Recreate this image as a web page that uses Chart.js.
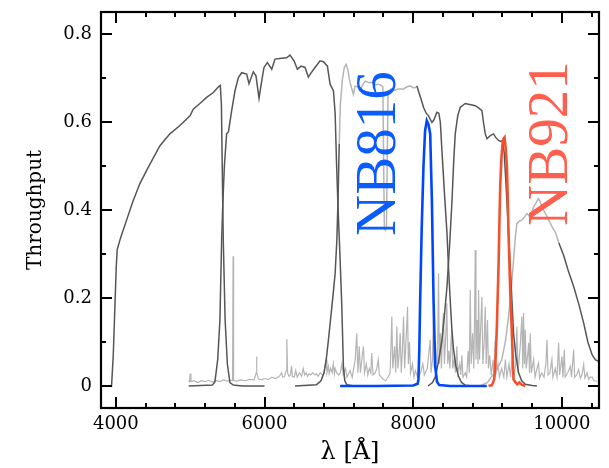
<!DOCTYPE html>
<html>
<head>
<meta charset="utf-8">
<script src="https://cdn.jsdelivr.net/npm/chart.js@4/dist/chart.umd.min.js"></script>
<style>
  html, body { margin: 0; padding: 0; background: #fff; }
  #wrap { width: 609px; height: 468px; }
</style>
</head>
<body>
<div id="wrap"><canvas id="plot"></canvas></div>
<script>
// ejes
const xTicks = [4000, 6000, 8000, 10000];
const yTicks = [0, 0.2, 0.4, 0.6, 0.8];
const yTickLabels = ['0', '0.2', '0.4', '0.6', '0.8'];

// filtro g (gris oscuro)
const gLam = [3860, 3942, 3965, 3985, 4005, 4018, 4060, 4098, 4144, 4230, 4323, 4435, 4593, 4727, 4862, 4997, 5041, 5130, 5221, 5311, 5380, 5405, 5420, 5435, 5445, 5470, 5500, 5535, 5580, 5700, 6000];
const gThr = [0, 0, 0.07, 0.17, 0.27, 0.31, 0.335, 0.354, 0.377, 0.42, 0.46, 0.497, 0.546, 0.573, 0.592, 0.614, 0.629, 0.642, 0.656, 0.667, 0.68, 0.683, 0.64, 0.45, 0.331, 0.15, 0.05, 0.008, 0.002, 0, 0];

// filtro r
const rLam = [4980, 5300, 5333, 5370, 5400, 5423, 5440, 5460, 5490, 5515, 5558, 5603, 5648, 5693, 5760, 5791, 5849, 5885, 5926, 5962, 5993, 6038, 6097, 6141, 6231, 6298, 6343, 6397, 6442, 6492, 6545, 6590, 6636, 6680, 6747, 6792, 6846, 6882, 6927, 6950, 6970, 6990, 7007, 7025, 7040, 7061, 7080, 7107, 7200, 7350];
const rThr = [0, 0.002, 0.01, 0.06, 0.15, 0.331, 0.42, 0.5, 0.573, 0.578, 0.626, 0.671, 0.701, 0.712, 0.709, 0.687, 0.714, 0.705, 0.654, 0.693, 0.724, 0.735, 0.72, 0.743, 0.745, 0.746, 0.752, 0.739, 0.72, 0.727, 0.724, 0.702, 0.714, 0.724, 0.739, 0.737, 0.727, 0.686, 0.671, 0.62, 0.5, 0.4, 0.331, 0.25, 0.18, 0.045, 0.012, 0.003, 0, 0];

// filtro i (tramo claro entre 7005 y 8050)
const iLam = [6410, 6700, 6760, 6800, 6830, 6860, 6900, 6930, 6950, 6973, 6990, 7005, 7020, 7050, 7075, 7098, 7120, 7150, 7196, 7219, 7250, 7286, 7320, 7354, 7400, 7443, 7490, 7533, 7570, 7592, 7603, 7612, 7625, 7640, 7650, 7662, 7700, 7750, 7800, 7870, 7920, 7960, 8000, 8027, 8050, 8100, 8140, 8175, 8207, 8235, 8252, 8280, 8319, 8345, 8365, 8387, 8420, 8455, 8475, 8498, 8520, 8543, 8575, 8610, 8650, 8700, 8800];
const iThr = [0, 0.003, 0.012, 0.03, 0.06, 0.105, 0.17, 0.22, 0.256, 0.331, 0.43, 0.55, 0.64, 0.7, 0.725, 0.731, 0.72, 0.69, 0.663, 0.682, 0.68, 0.671, 0.685, 0.693, 0.69, 0.69, 0.685, 0.686, 0.683, 0.68, 0.5, 0.36, 0.354, 0.36, 0.5, 0.67, 0.675, 0.672, 0.675, 0.675, 0.68, 0.682, 0.678, 0.678, 0.682, 0.655, 0.633, 0.62, 0.614, 0.604, 0.599, 0.605, 0.622, 0.62, 0.6, 0.535, 0.44, 0.347, 0.27, 0.196, 0.13, 0.083, 0.045, 0.022, 0.008, 0.002, 0];

// filtro z
const zLam = [8200, 8260, 8296, 8340, 8387, 8420, 8455, 8490, 8522, 8545, 8566, 8600, 8633, 8700, 8760, 8835, 8880, 8925, 8945, 8970, 8993, 9037, 9081, 9110, 9148, 9175, 9202, 9225, 9245, 9261, 9285, 9306, 9330, 9350, 9380, 9418, 9460, 9508, 9600, 9665];
const zThr = [0, 0.008, 0.02, 0.055, 0.105, 0.16, 0.226, 0.32, 0.42, 0.51, 0.573, 0.615, 0.633, 0.642, 0.64, 0.637, 0.632, 0.626, 0.6, 0.573, 0.562, 0.569, 0.573, 0.565, 0.558, 0.556, 0.558, 0.53, 0.47, 0.42, 0.34, 0.271, 0.19, 0.12, 0.07, 0.03, 0.012, 0.004, 0.001, 0];

// filtro y (claro hasta 9950)
const yLam = [8900, 9000, 9058, 9120, 9192, 9240, 9283, 9320, 9350, 9375, 9395, 9430, 9462, 9500, 9530, 9555, 9576, 9600, 9620, 9650, 9683, 9710, 9754, 9800, 9845, 9880, 9912, 9960, 10024, 10090, 10159, 10230, 10294, 10350, 10407, 10450, 10496, 10550];
const yThr = [0, 0.008, 0.022, 0.035, 0.06, 0.1, 0.158, 0.22, 0.286, 0.34, 0.369, 0.375, 0.377, 0.385, 0.392, 0.388, 0.38, 0.395, 0.407, 0.415, 0.426, 0.418, 0.4, 0.385, 0.37, 0.358, 0.35, 0.325, 0.297, 0.26, 0.226, 0.185, 0.143, 0.1, 0.071, 0.06, 0.056, 0.05];

// NB816
const nb816Lam = [7017, 7500, 8000, 8060, 8071, 8082, 8094, 8115, 8138, 8160, 8183, 8205, 8229, 8252, 8274, 8296, 8320, 8350, 8500, 8990];
const nb816Thr = [0, 0, 0.001, 0.005, 0.015, 0.08, 0.196, 0.36, 0.497, 0.58, 0.603, 0.595, 0.573, 0.42, 0.196, 0.045, 0.01, 0.002, 0, 0];

// NB921
const nb921Lam = [9014, 9060, 9090, 9104, 9125, 9148, 9160, 9172, 9188, 9202, 9215, 9229, 9245, 9261, 9272, 9283, 9305, 9328, 9340, 9350, 9370, 9400, 9430, 9460, 9508];
const nb921Thr = [0, 0.002, 0.015, 0.045, 0.13, 0.271, 0.37, 0.46, 0.52, 0.55, 0.562, 0.565, 0.54, 0.497, 0.43, 0.347, 0.22, 0.12, 0.06, 0.015, 0.01, 0.004, 0.008, 0.003, 0];

// espectro del cielo (gris claro)
const skyLam = [4975, 4990, 5000, 5010, 5050, 5100, 5150, 5200, 5250, 5300, 5350, 5400, 5450, 5500, 5550, 5570, 5577, 5584, 5620, 5680, 5740, 5800, 5860, 5888, 5893, 5898, 5920, 5960, 6000, 6050, 6100, 6150, 6200, 6230, 6245, 6270, 6290, 6300, 6310, 6330, 6350, 6364, 6375, 6400, 6420, 6440, 6470, 6500, 6520, 6540, 6560, 6580, 6600, 6620, 6650, 6680, 6700, 6720, 6750, 6780, 6800, 6830, 6840, 6860, 6870, 6890, 6910, 6925, 6940, 6950, 6970, 7000,
  7020, 7040, 7060, 7090, 7110, 7150, 7180, 7220, 7241, 7255, 7275, 7290, 7316, 7331, 7345, 7370, 7390, 7410, 7430, 7443, 7460, 7490, 7510, 7530, 7545, 7570, 7600, 7630, 7660, 7690, 7713, 7725, 7750, 7765, 7780, 7795, 7810, 7825, 7840, 7855, 7870, 7885, 7900, 7914, 7924, 7935, 7950, 7965, 7990, 8010, 8030, 8060,
  8100, 8130, 8150, 8190, 8229, 8240, 8260, 8274, 8285, 8300, 8315, 8330, 8341, 8352, 8365, 8380, 8398, 8408, 8420, 8440, 8453, 8465, 8480, 8495, 8508, 8520, 8532, 8550, 8570, 8588, 8600, 8625, 8640, 8655, 8670, 8700, 8720, 8740, 8755, 8768, 8780, 8800, 8815, 8827, 8835, 8845, 8860, 8872, 8880, 8892, 8910, 8925, 8937, 8955, 8970, 8982, 9000, 9012, 9030, 9050, 9075, 9090, 9104, 9115, 9140, 9160, 9190, 9220,
  9240, 9260, 9290, 9310, 9340, 9355, 9380, 9395, 9410, 9440, 9462, 9475, 9485, 9498, 9508, 9520, 9540, 9553, 9565, 9575, 9590, 9620, 9640, 9665, 9687, 9700, 9730, 9760, 9785, 9800, 9815, 9840, 9866, 9880, 9910, 9935, 9957, 9970, 10002, 10015, 10033, 10045, 10080, 10114, 10130, 10159, 10172, 10200, 10226, 10250, 10270, 10294, 10310, 10339, 10360, 10380, 10406, 10430, 10474];
const skyThr = [0.012, 0.01, 0.028, 0.01, 0.012, 0.008, 0.012, 0.01, 0.013, 0.009, 0.012, 0.01, 0.014, 0.011, 0.013, 0.012, 0.295, 0.013, 0.011, 0.014, 0.012, 0.015, 0.014, 0.03, 0.067, 0.03, 0.016, 0.014, 0.017, 0.015, 0.02, 0.017, 0.022, 0.03, 0.02, 0.022, 0.035, 0.107, 0.03, 0.022, 0.025, 0.046, 0.022, 0.02, 0.035, 0.02, 0.03, 0.022, 0.04, 0.025, 0.03, 0.022, 0.028, 0.025, 0.03, 0.025, 0.028, 0.022, 0.03, 0.025, 0.028, 0.06, 0.03, 0.045, 0.028, 0.04, 0.03, 0.05, 0.028, 0.04, 0.03, 0.025,
  0.03, 0.05, 0.025, 0.04, 0.02, 0.035, 0.02, 0.06, 0.12, 0.03, 0.09, 0.03, 0.07, 0.09, 0.03, 0.05, 0.025, 0.04, 0.03, 0.075, 0.025, 0.03, 0.04, 0.06, 0.025, 0.02, 0.015, 0.012, 0.02, 0.03, 0.158, 0.04, 0.09, 0.03, 0.135, 0.04, 0.07, 0.12, 0.03, 0.08, 0.158, 0.04, 0.09, 0.14, 0.18, 0.05, 0.1, 0.03, 0.05, 0.02, 0.035, 0.02,
  0.03, 0.05, 0.025, 0.04, 0.105, 0.03, 0.06, 0.18, 0.04, 0.1, 0.03, 0.09, 0.256, 0.05, 0.12, 0.04, 0.14, 0.166, 0.05, 0.12, 0.188, 0.05, 0.08, 0.04, 0.1, 0.128, 0.04, 0.06, 0.03, 0.09, 0.03, 0.05, 0.025, 0.07, 0.02, 0.03, 0.02, 0.08, 0.03, 0.218, 0.05, 0.12, 0.04, 0.17, 0.309, 0.06, 0.15, 0.05, 0.218, 0.06, 0.14, 0.203, 0.05, 0.1, 0.18, 0.05, 0.15, 0.04, 0.07, 0.025, 0.06, 0.02, 0.105, 0.03, 0.05, 0.02, 0.04, 0.02,
  0.06, 0.02, 0.05, 0.02, 0.08, 0.02, 0.05, 0.135, 0.03, 0.09, 0.158, 0.04, 0.166, 0.05, 0.128, 0.04, 0.07, 0.098, 0.03, 0.12, 0.03, 0.06, 0.02, 0.04, 0.052, 0.018, 0.03, 0.02, 0.05, 0.105, 0.025, 0.03, 0.06, 0.02, 0.04, 0.02, 0.098, 0.025, 0.067, 0.02, 0.083, 0.02, 0.03, 0.045, 0.02, 0.083, 0.02, 0.025, 0.037, 0.018, 0.025, 0.049, 0.018, 0.03, 0.015, 0.02, 0.02, 0.012, 0.011];

// etiquetas de los filtros angostos (posición en unidades de datos)
const nbLabels = [
  { text: 'NB816', lam: 7556, thr: 0.528, color: '#0a5cff' },
  { text: 'NB921', lam: 9868, thr: 0.551, color: '#ff5f4f' }
];

const DARK = '#565656';
const LIGHT = '#b5b5b5';

const pairs = (lam, thr) => lam.map((x, i) => ({ x: x, y: thr[i] }));

const lineSet = (lam, thr, color, width, order, extra) => Object.assign({
  data: pairs(lam, thr),
  borderColor: color,
  borderWidth: width,
  pointRadius: 0,
  tension: 0,
  fill: false,
  order: order
}, extra || {});

// marco y marcas hacia adentro en los cuatro lados
const frameTicks = {
  id: 'frameTicks',
  afterDatasetsDraw(chart) {
    const { ctx, chartArea: a, scales: { x, y } } = chart;
    ctx.save();
    ctx.strokeStyle = '#000';
    ctx.lineWidth = 2;
    ctx.beginPath();
    for (let v = 4000; v <= 10400; v += 400) {
      const px = Math.round(x.getPixelForValue(v));
      const len = xTicks.includes(v) ? 11 : 5;
      ctx.moveTo(px, a.bottom); ctx.lineTo(px, a.bottom - len);
      ctx.moveTo(px, a.top); ctx.lineTo(px, a.top + len);
    }
    for (let k = 0; k <= 8; k++) {
      const v = k / 10;
      const py = Math.round(y.getPixelForValue(v));
      const len = k % 2 === 0 ? 11 : 5;
      ctx.moveTo(a.left, py); ctx.lineTo(a.left + len, py);
      ctx.moveTo(a.right, py); ctx.lineTo(a.right - len, py);
    }
    ctx.stroke();
    ctx.lineWidth = 2.2;
    ctx.strokeRect(a.left, a.top, a.right - a.left, a.bottom - a.top);

    // textos rotados NB816 / NB921
    ctx.font = '57px "Liberation Serif"';
    ctx.textAlign = 'center';
    ctx.textBaseline = 'middle';
    nbLabels.forEach(l => {
      ctx.save();
      ctx.translate(x.getPixelForValue(l.lam), y.getPixelForValue(l.thr));
      ctx.rotate(-Math.PI / 2);
      ctx.fillStyle = l.color;
      ctx.fillText(l.text, 0, 0);
      ctx.restore();
    });
    ctx.restore();
  }
};

const chart = new Chart(document.getElementById('plot'), {
  type: 'line',
  data: {
    datasets: [
      lineSet(skyLam, skyThr, LIGHT, 1.2, 6),
      lineSet(gLam, gThr, DARK, 1.5, 4),
      lineSet(rLam, rThr, DARK, 1.5, 4),
      lineSet(iLam, iThr, DARK, 1.5, 3, {
        segment: { borderColor: c => (c.p0.parsed.x >= 7005 && c.p1.parsed.x <= 8050) ? LIGHT : DARK }
      }),
      lineSet(zLam, zThr, DARK, 1.5, 4),
      lineSet(yLam, yThr, DARK, 1.5, 5, {
        segment: { borderColor: c => c.p1.parsed.x <= 9960 ? LIGHT : DARK }
      }),
      lineSet(nb816Lam, nb816Thr, '#0046ff', 2.6, 1),
      lineSet(nb921Lam, nb921Thr, '#f0522d', 2.6, 0)
    ]
  },
  options: {
    responsive: true,
    maintainAspectRatio: false,
    animation: false,
    layout: { padding: { top: 12, right: 10, left: 0, bottom: 0 } },
    plugins: { legend: { display: false }, tooltip: { enabled: false } },
    scales: {
      x: {
        type: 'linear',
        min: 3800,
        max: 10500,
        grid: { display: false, drawTicks: false },
        border: { display: false },
        afterFit: s => { s.height = 60; s.paddingLeft = 0; s.paddingRight = 0; },
        afterBuildTicks: s => { s.ticks = xTicks.map(v => ({ value: v })); },
        ticks: {
          padding: 6,
          color: '#000',
          font: { family: 'DejaVu Serif', size: 18 },
          callback: v => String(v)
        },
        title: {
          display: true,
          text: 'λ [Å]',
          color: '#000',
          font: { family: 'DejaVu Serif', size: 24, lineHeight: 1 },
          padding: { top: 0, bottom: 3 }
        }
      },
      y: {
        min: -0.05,
        max: 0.85,
        grid: { display: false, drawTicks: false },
        border: { display: false },
        afterFit: s => { s.width = 101; s.paddingTop = 0; s.paddingBottom = 0; },
        afterBuildTicks: s => { s.ticks = yTicks.map(v => ({ value: v })); },
        ticks: {
          padding: 9,
          color: '#000',
          font: { family: 'DejaVu Serif', size: 18 },
          callback: (v, i) => yTickLabels[i]
        },
        title: {
          display: true,
          text: 'Throughput',
          color: '#000',
          font: { family: 'DejaVu Serif', size: 20, lineHeight: 1.2 },
          padding: { top: 24, bottom: 0 }
        }
      }
    }
  },
  plugins: [frameTicks]
});
</script>
</body>
</html>
